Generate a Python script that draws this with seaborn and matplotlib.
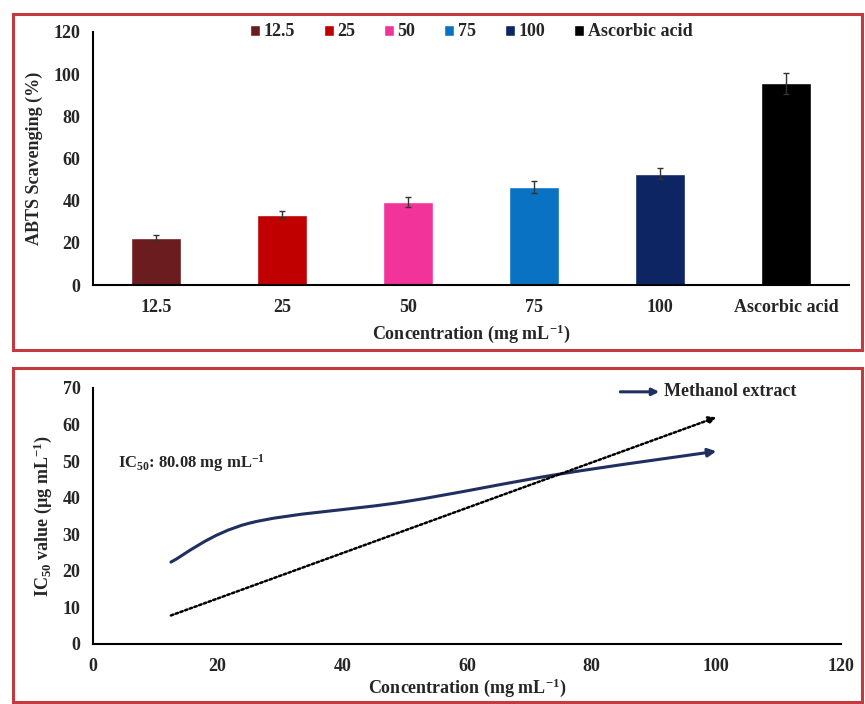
import numpy as np
import pandas as pd
import seaborn as sns
import matplotlib.pyplot as plt
from matplotlib.path import Path
from matplotlib.patches import FancyArrowPatch, Rectangle

# ---- data ----
categories = ["12.5", "25", "50", "75", "100", "Ascorbic acid"]
scavenging = [22.3, 33.3, 39.3, 46.5, 52.8, 95.6]
scav_err = [1.4, 1.7, 2.3, 2.7, 2.7, 4.8]
bar_colors = ["#6b1c1f", "#c00000", "#f2339a", "#0a72c2", "#0d2563", "#000000"]

conc = [12.5, 25, 50, 75, 100]
ic50_curve = [22.4, 33.0, 38.9, 46.5, 52.7]
trend_x = [12.5, 100]
trend_y = [7.8, 62.0]

sns.set_theme(style="white")
plt.rcParams["font.family"] = ["Liberation Serif", "DejaVu Serif"]
plt.rcParams["font.weight"] = "bold"
plt.rcParams["axes.labelweight"] = "bold"
plt.rcParams["mathtext.fontset"] = "custom"
plt.rcParams["mathtext.rm"] = "Liberation Serif:bold"
plt.rcParams["mathtext.it"] = "Liberation Serif:bold"
plt.rcParams["mathtext.bf"] = "Liberation Serif:bold"

FS = 13
fig = plt.figure(figsize=(8.65, 7.04), dpi=100)
W, H = 865, 704

# red panel frames
for (x0, y0, x1, y1) in [(13, 14, 862, 350), (13, 368, 862, 702)]:
    fig.add_artist(Rectangle((x0 / W, 1 - y1 / H), (x1 - x0) / W, (y1 - y0) / H,
                             transform=fig.transFigure, fill=False,
                             edgecolor="#c23a40", linewidth=2.2))

# ---------------- top: bar chart ----------------
ax1 = fig.add_axes([93 / W, 1 - 285 / H, (849 - 93) / W, (285 - 32) / H])
df = pd.DataFrame({"cat": categories, "val": scavenging})
sns.barplot(data=df, x="cat", y="val", hue="cat", palette=bar_colors,
            width=0.39, ax=ax1, legend=True, saturation=1)
ax1.errorbar(np.arange(len(categories)), scavenging, yerr=scav_err, fmt="none",
             ecolor="#333333", elinewidth=1, capsize=2.5, capthick=1)
ax1.set_ylim(0, 120)
ax1.set_xlim(-0.5, 5.5)
ax1.set_yticks(range(0, 121, 20))
ax1.set_xticks(np.arange(-0.5, 6, 1), minor=True)
ax1.tick_params(axis="x", which="major", length=0, pad=10, labelsize=FS)
ax1.tick_params(axis="x", which="minor", length=4, width=1.2, direction="out", color="black")
ax1.tick_params(axis="y", length=4, width=1.2, direction="out", color="black", labelsize=FS, pad=5)
for s in ["top", "right"]:
    ax1.spines[s].set_visible(False)
for s in ["left", "bottom"]:
    ax1.spines[s].set_color("black")
    ax1.spines[s].set_linewidth(1.5)
ax1.set_xlabel("Concentration (mg mL$^{-1}$)", fontsize=FS, labelpad=5)
ax1.set_ylabel("ABTS Scavenging (%)", fontsize=FS, labelpad=8)
leg = ax1.legend(loc="center", bbox_to_anchor=(0.5, 1.0), ncol=6, frameon=False,
                 handlelength=0.55, handleheight=0.55, handletextpad=0.2,
                 columnspacing=1.6, fontsize=FS)

# ---------------- bottom: IC50 curve ----------------
ax2 = fig.add_axes([93 / W, 1 - 644 / H, (841 - 93) / W, (644 - 388) / H])
ax2.set_xlim(0, 120)
ax2.set_ylim(0, 70)

# smoothed line (Catmull-Rom as cubic Bezier, like a spreadsheet "smoothed line")
P = np.column_stack([conc, ic50_curve])
verts = [P[0]]
codes = [Path.MOVETO]
n = len(P)
for i in range(n - 1):
    p_prev = P[max(i - 1, 0)]
    p_next2 = P[min(i + 2, n - 1)]
    c1 = P[i] + (P[i + 1] - p_prev) / 6
    c2 = P[i + 1] - (p_next2 - P[i]) / 6
    verts += [c1, c2, P[i + 1]]
    codes += [Path.CURVE4] * 3
curve = FancyArrowPatch(path=Path(verts, codes), arrowstyle="-|>", mutation_scale=12,
                        color="#1f2f5f", linewidth=2.2, transform=ax2.transData)
ax2.add_patch(curve)

trend = FancyArrowPatch(posA=(trend_x[0], trend_y[0]), posB=(trend_x[1], trend_y[1]),
                        arrowstyle="-|>", mutation_scale=11, color="black",
                        linestyle=(0, (1, 1)), linewidth=1.8, shrinkA=0, shrinkB=0,
                        transform=ax2.transData)
ax2.add_patch(trend)

ax2.text(0.033, 0.705, "IC$_{50}$: 80.08 mg mL$^{-1}$", transform=ax2.transAxes,
         fontsize=12, ha="left", va="center")

# legend entry
ax2.annotate("", xy=(0.757, 0.985), xytext=(0.705, 0.985), xycoords="axes fraction",
             arrowprops=dict(arrowstyle="-|>", color="#1f2f5f", lw=2.2, mutation_scale=10,
                             shrinkA=0, shrinkB=0))
ax2.text(0.763, 0.985, "Methanol extract", transform=ax2.transAxes, fontsize=FS,
         ha="left", va="center")

ax2.set_xticks(range(0, 121, 20))
ax2.set_yticks(range(0, 71, 10))
ax2.tick_params(axis="both", length=4, width=1.2, direction="out", color="black",
                labelsize=FS)
ax2.tick_params(axis="x", pad=6)
ax2.tick_params(axis="y", pad=5)
for s in ["top", "right"]:
    ax2.spines[s].set_visible(False)
for s in ["left", "bottom"]:
    ax2.spines[s].set_color("black")
    ax2.spines[s].set_linewidth(1.5)
ax2.set_xlabel("Concentration (mg mL$^{-1}$)", fontsize=FS, labelpad=1)
ax2.set_ylabel("IC$_{50}$ value (µg mL$^{-1}$)", fontsize=FS, labelpad=6)

fig.savefig("out.png", dpi=100)
